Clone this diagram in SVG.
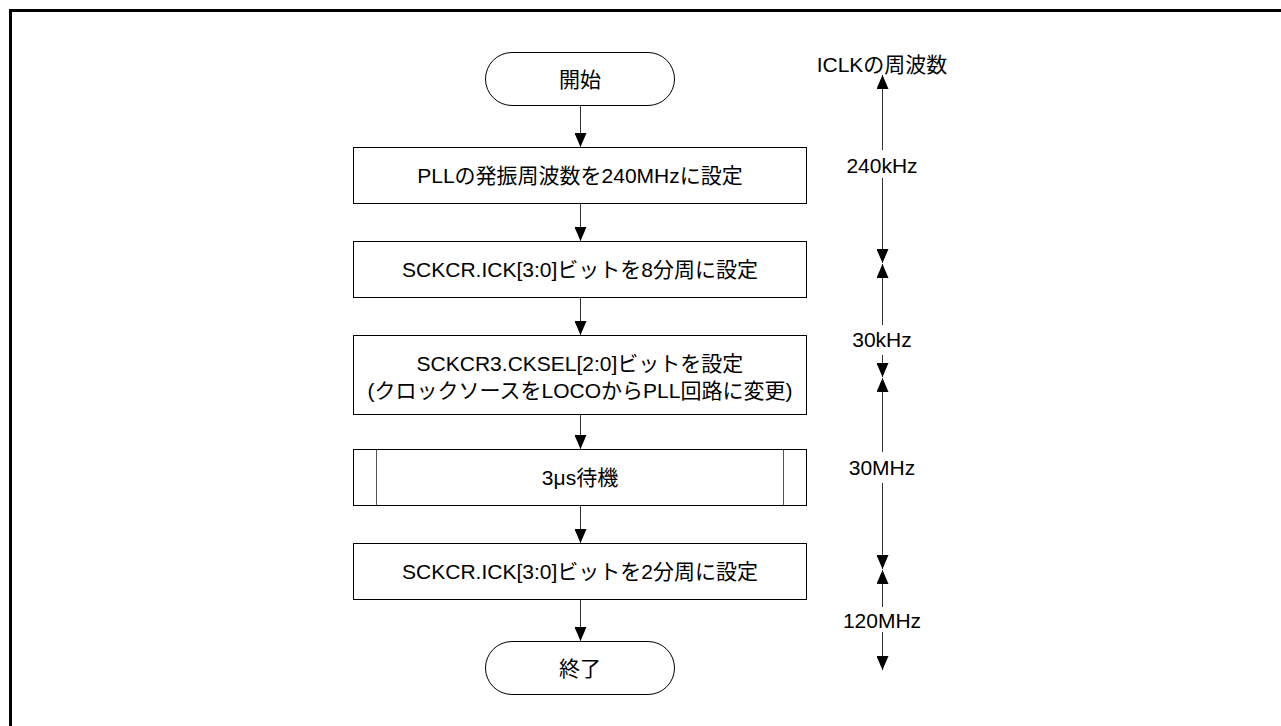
<svg xmlns="http://www.w3.org/2000/svg" width="1281" height="726" viewBox="0 0 1281 726">
<defs>
<style>
.box{fill:#fff;stroke:#000;stroke-width:1}
.inner{fill:none;stroke:#555;stroke-width:1}
.t{font-family:"Liberation Sans","Noto Sans CJK JP",sans-serif;font-size:21px;fill:#000;text-anchor:middle}
.ln{stroke:#333;stroke-width:1;fill:none}
</style>
<marker id="arr" markerWidth="14" markerHeight="12" refX="14" refY="6" orient="auto" markerUnits="userSpaceOnUse" viewBox="0 0 14 12">
<path d="M0,0 L14,6 L0,12 Z" fill="#000"/>
</marker>
</defs>
<rect width="1281" height="726" fill="#fff"/>
<g id="frame">
<path d="M10.5,726 V10.5 H1281" fill="none" stroke="#000" stroke-width="3"/>
</g>
<g id="start">
<rect class="box" x="485.5" y="52.5" width="189" height="53" rx="26.5" ry="26.5"/>
<text class="t" x="580" y="86.5">開始</text>
</g>
<g id="step1">
<rect class="box" x="353.5" y="147.5" width="453" height="56"/>
<text class="t" x="580" y="183">PLLの発振周波数を240MHzに設定</text>
</g>
<g id="step2">
<rect class="box" x="353.5" y="241.5" width="453" height="56"/>
<text class="t" x="580" y="277">SCKCR.ICK[3:0]ビットを8分周に設定</text>
</g>
<g id="step3">
<rect class="box" x="353.5" y="335.5" width="453" height="79"/>
<text class="t" x="580" y="370.5">SCKCR3.CKSEL[2:0]ビットを設定</text>
<text class="t" x="580" y="397.5">(クロックソースをLOCOからPLL回路に変更)</text>
</g>
<g id="step4">
<rect class="box" x="353.5" y="449.5" width="453" height="56"/>
<line class="inner" x1="376.5" y1="449.5" x2="376.5" y2="505.5"/>
<line class="inner" x1="783.5" y1="449.5" x2="783.5" y2="505.5"/>
<text class="t" x="580" y="485">3μs待機</text>
</g>
<g id="step5">
<rect class="box" x="353.5" y="543.5" width="453" height="56"/>
<text class="t" x="580" y="579">SCKCR.ICK[3:0]ビットを2分周に設定</text>
</g>
<g id="end">
<rect class="box" x="485.5" y="641.5" width="189" height="53" rx="26.5" ry="26.5"/>
<text class="t" x="580" y="675.5">終了</text>
</g>
<g id="connectors">
<line class="ln" x1="580.5" y1="106" x2="580.5" y2="147" marker-end="url(#arr)"/>
<line class="ln" x1="580.5" y1="204" x2="580.5" y2="241" marker-end="url(#arr)"/>
<line class="ln" x1="580.5" y1="298" x2="580.5" y2="335" marker-end="url(#arr)"/>
<line class="ln" x1="580.5" y1="415" x2="580.5" y2="449" marker-end="url(#arr)"/>
<line class="ln" x1="580.5" y1="506" x2="580.5" y2="543" marker-end="url(#arr)"/>
<line class="ln" x1="580.5" y1="600" x2="580.5" y2="641" marker-end="url(#arr)"/>
</g>
<g id="axis">
<text class="t" x="882" y="72">ICLKの周波数</text>
<line class="ln" x1="882.5" y1="150" x2="882.5" y2="75" marker-end="url(#arr)"/>
<text class="t" x="882" y="172.5">240kHz</text>
<line class="ln" x1="882.5" y1="178" x2="882.5" y2="263" marker-end="url(#arr)"/>
<line class="ln" x1="882.5" y1="325" x2="882.5" y2="264" marker-end="url(#arr)"/>
<text class="t" x="882" y="346.5">30kHz</text>
<line class="ln" x1="882.5" y1="355" x2="882.5" y2="377" marker-end="url(#arr)"/>
<line class="ln" x1="882.5" y1="452" x2="882.5" y2="378" marker-end="url(#arr)"/>
<text class="t" x="882" y="474.5">30MHz</text>
<line class="ln" x1="882.5" y1="483" x2="882.5" y2="569" marker-end="url(#arr)"/>
<line class="ln" x1="882.5" y1="607" x2="882.5" y2="570" marker-end="url(#arr)"/>
<text class="t" x="882" y="627.5">120MHz</text>
<line class="ln" x1="882.5" y1="632" x2="882.5" y2="670" marker-end="url(#arr)"/>
</g>
</svg>
